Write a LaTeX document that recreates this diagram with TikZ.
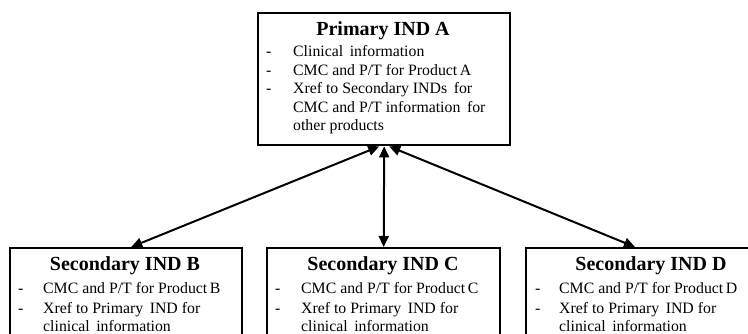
\documentclass[tikz,border=0pt]{standalone}
\usepackage{fontspec}
\setmainfont{Liberation Serif}
\usetikzlibrary{arrows.meta}
\begin{document}
\begin{tikzpicture}[x=1pt,y=-1pt,
  box/.style={draw=black,line width=2.4pt,fill=white,inner sep=0pt,anchor=north west},
  ttl/.style={inner sep=0pt,anchor=base,font=\fontsize{20}{22}\selectfont\bfseries},
  txt/.style={inner sep=0pt,anchor=base west,font=\fontsize{15.8}{18}\selectfont},
  arr/.style={line width=2pt,{Triangle[length=11pt,width=10pt]}-{Triangle[length=11pt,width=10pt]}}]
\useasboundingbox (0,0) rectangle (748,334);
\clip (0,0) rectangle (748,334);
% top box
\node[box,minimum width=252pt,minimum height=132pt] (A) at (257,12) {};
\node[ttl] (At) at (383,36) {Primary IND A};
\node[txt] (Ad1) at (266,57) {-};
\node[txt] (Al1) at (293,57) {Clinical\, information};
\node[txt] (Ad2) at (266,75.5) {-};
\node[txt] (Al2) at (293,75.5) {CMC and P/T for Product\,A};
\node[txt] (Ad3) at (266,94) {-};
\node[txt] (Al3) at (293,94) {Xref to Secondary INDs\, for};
\node[txt] (Al4) at (293,112.5) {CMC and P/T information\, for};
\node[txt] (Al5) at (293,131) {other products};
% bottom boxes
\node[box,minimum width=232pt,minimum height=120pt] (B) at (9,247) {};
\node[ttl] (Bt) at (125,271) {Secondary IND B};
\node[txt] (Bd1) at (18,294) {-};
\node[txt] (Bl1) at (43,294) {CMC and P/T for Product\,B};
\node[txt] (Bd2) at (18,313) {-};
\node[txt] (Bl2) at (43,313) {Xref to Primary\, IND for};
\node[txt] (Bl3) at (43,331) {clinical\, information};
\node[box,minimum width=233pt,minimum height=120pt] (C) at (266,247) {};
\node[ttl] (Ct) at (383,271) {Secondary IND C};
\node[txt] (Cd1) at (275,294) {-};
\node[txt] (Cl1) at (301,294) {CMC and P/T for Product\,C};
\node[txt] (Cd2) at (275,313) {-};
\node[txt] (Cl2) at (301,313) {Xref to Primary\, IND for};
\node[txt] (Cl3) at (301,331) {clinical\, information};
\node[box,minimum width=240pt,minimum height=120pt] (D) at (525,247) {};
\node[ttl] (Dt) at (651,271) {Secondary IND D};
\node[txt] (Dd1) at (535,294) {-};
\node[txt] (Dl1) at (559,294) {CMC and P/T for Product\,D};
\node[txt] (Dd2) at (535,313) {-};
\node[txt] (Dl2) at (559,313) {Xref to Primary\, IND for};
\node[txt] (Dl3) at (559,331) {clinical\, information};
% connectors
\draw[arr] ([xshift=-5pt]A.south) -- ([xshift=5pt]B.north);
\draw[arr] (A.south) -- ([xshift=0pt]C.north);
\draw[arr] ([xshift=5pt]A.south) -- ([xshift=-5pt]D.north -| 640,0);
\end{tikzpicture}
\end{document}
